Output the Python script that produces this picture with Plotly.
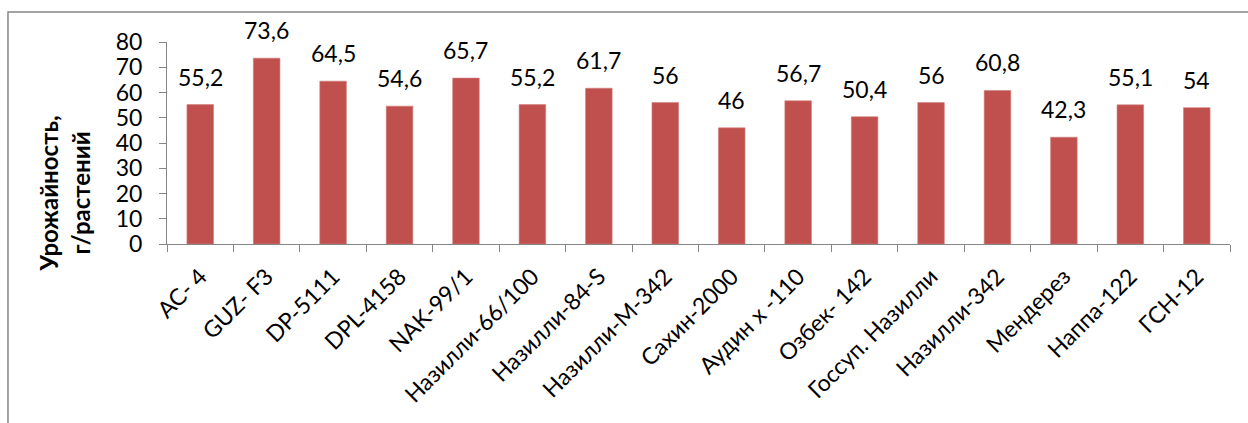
import plotly.graph_objects as go

# Cotton varieties and their yield per plant
varieties = [
    "АС- 4", "GUZ- F3", "DP-5111", "DPL-4158", "NAK-99/1",
    "Назилли-66/100", "Назилли-84-S", "Назилли-М-342", "Сахин-2000",
    "Аудин x -110", "Озбек- 142", "Госсуп. Назилли", "Назилли-342",
    "Мендерез", "Наппа-122", "ГСН-12",
]
yield_values = [55.2, 73.6, 64.5, 54.6, 65.7, 55.2, 61.7, 56, 46,
                56.7, 50.4, 56, 60.8, 42.3, 55.1, 54]
y_ticks = [0, 10, 20, 30, 40, 50, 60, 70, 80]

FONT = "Lato, 'Open Sans', sans-serif"
AXIS_GREY = "#868686"


def fmt(v):
    # decimal comma, no trailing ",0"
    s = f"{v:g}"
    return s.replace(".", ",")


fig = go.Figure(
    go.Bar(
        x=varieties,
        y=yield_values,
        marker=dict(color="#C0504D", line=dict(color="#D27C79", width=0.6)),
        hoverinfo="x+y",
    )
)

for name, v in zip(varieties, yield_values):
    fig.add_annotation(
        x=name, y=v, text=fmt(v), showarrow=False,
        xref="x", yref="y", yanchor="bottom", yshift=12,
        font=dict(family=FONT, size=23, color="#000000"),
    )

# rotated y-axis title (two lines, bold)
fig.add_annotation(
    x=-0.097, y=0.25, xref="paper", yref="paper",
    text="<b>Урожайность,<br>г/растений</b>", showarrow=False,
    textangle=-90, xanchor="center", yanchor="middle",
    font=dict(family=FONT, size=24, color="#000000"),
)

# outer chart frame
fig.add_shape(
    type="rect", xref="paper", yref="paper",
    x0=-0.1496, x1=1.1, y0=-1.2, y1=1.1485,
    line=dict(color=AXIS_GREY, width=1.5), layer="below",
)

fig.update_layout(
    width=1248, height=423,
    margin=dict(l=167, r=18, t=42, b=179),
    paper_bgcolor="white", plot_bgcolor="white",
    bargap=0.6, showlegend=False,
    font=dict(family=FONT, color="#000000"),
)
fig.update_xaxes(
    type="category", tickangle=-45, tickson="boundaries",
    ticks="outside", ticklen=7, tickcolor=AXIS_GREY,
    showline=True, linecolor=AXIS_GREY, linewidth=1,
    showgrid=False, ticklabelstandoff=9,
    tickfont=dict(family=FONT, size=23, color="#000000"),
)
fig.update_yaxes(
    range=[0, 80], tickvals=y_ticks, ticks="outside", ticklen=7,
    tickcolor=AXIS_GREY, showline=True, linecolor=AXIS_GREY, linewidth=1,
    showgrid=False, zeroline=False, ticklabelstandoff=12,
    tickfont=dict(family=FONT, size=23, color="#000000"),
)

fig.write_html("out.html")
